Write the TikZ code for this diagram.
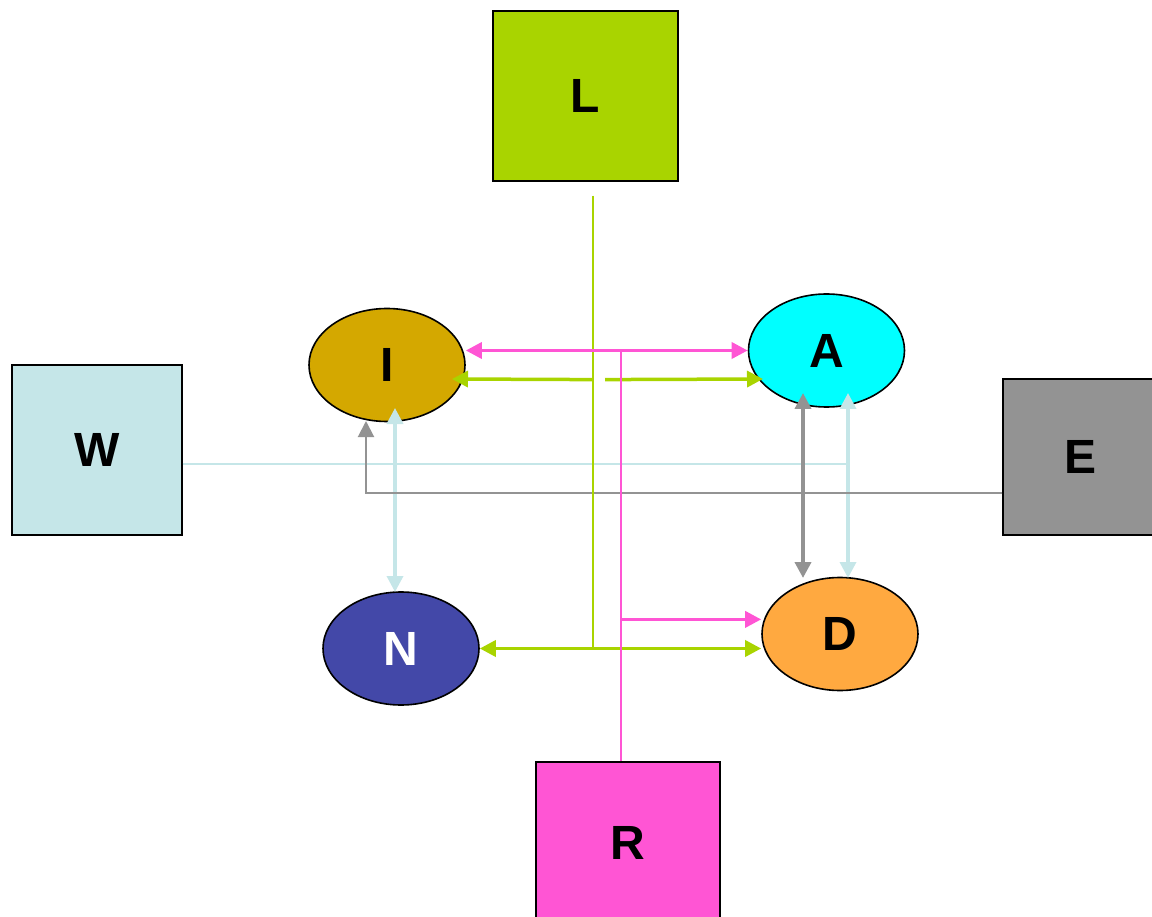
\documentclass[tikz,border=0pt]{standalone}
\usepackage{fontspec}
\setmainfont{Liberation Sans}
\usetikzlibrary{shapes.geometric,arrows.meta,calc}
\definecolor{cL}{HTML}{A9D400}
\definecolor{cW}{HTML}{C5E6E8}
\definecolor{cE}{HTML}{939393}
\definecolor{cR}{HTML}{FF55D4}
\definecolor{cI}{HTML}{D4A800}
\definecolor{cA}{HTML}{00FFFF}
\definecolor{cN}{HTML}{4348A8}
\definecolor{cD}{HTML}{FFA940}
\begin{document}
\begin{tikzpicture}[x=1pt,y=-1pt,
  lab/.style={font=\fontsize{48}{50}\selectfont\bfseries},
  box/.style={lab,draw=black,line width=1.2pt,rectangle,inner sep=0pt},
  oval/.style={lab,draw=black,line width=1.6pt,ellipse,inner sep=0pt,minimum width=156pt,minimum height=113pt},
  tipend/.style={-{Triangle[length=16pt,width=16pt]}},
  tipboth/.style={{Triangle[length=16pt,width=16pt]}-{Triangle[length=16pt,width=16pt]}},
  gthick/.style={draw=cL,line width=3.5pt},
  gthin/.style={draw=cL,line width=2pt},
  pthick/.style={draw=cR,line width=3.5pt},
  pthin/.style={draw=cR,line width=2pt},
  bthick/.style={draw=cW,line width=3.5pt},
  bthin/.style={draw=cW,line width=2pt},
  ythick/.style={draw=cE,line width=3.8pt},
  ythin/.style={draw=cE,line width=2pt}
]
\useasboundingbox (0,0) rectangle (1152,917);
% boxes
\node[box,fill=cL,minimum width=185pt,minimum height=170pt] (L) at (585.5,96) {L};
\node[box,fill=cW,minimum width=170pt,minimum height=170pt] (W) at (97,450) {W};
\node[box,fill=cE,minimum width=154pt,minimum height=156pt] (E) at (1080,457) {E};
\node[box,fill=cR,minimum width=184pt,minimum height=162pt] (R) at (628,843) {R};
% ellipses
\node[oval,fill=cI] (I) at (387,365) {I};
\node[oval,fill=cA] (A) at (826.5,350.5) {A};
\node[oval,fill=cN,text=white] (N) at (401,648.5) {N};
\node[oval,fill=cD] (D) at (840,634) {D};
% coordinates
\coordinate (g0) at ($(L.south)+(7.5,14)$);
\coordinate (g1) at ($(L.south)+(7.5,198)$);
\coordinate (g2) at ($(L.south)+(7.5,467.5)$);
\coordinate (g3) at ($(g1)+(12,0)$);
\coordinate (p0) at ($(R.north)+(-7,0)$);
\coordinate (p1) at ($(p0)+(0,-142)$);
\coordinate (wj) at (848,464);
\coordinate (ej) at (366,493);
% light blue
\draw[bthin] (W.east |- wj) -- (wj);
\draw[bthick,tipboth] ($(A.center)+(21.5,42.5)$) -- ($(D.center)+(8,-56)$);
\draw[bthick,tipboth] ($(I.center)+(8,43)$) -- ($(N.center)+(-6,-56.5)$);
% gray
\draw[ythin,tipend] (E.west |- ej) -- (ej) -- ($(I.center)+(-21,56)$);
\draw[ythick,tipboth] ($(A.center)+(-23.5,42.5)$) -- ($(D.center)+(-37,-56)$);
% green
\draw[gthin] (g0) -- (g2);
\draw[gthick,tipend] (g1) -- ($(I.center)+(65,14)$);
\draw[gthick,tipend] (g3) -- ($(A.center)+(-63.5,28.5)$);
\draw[gthick,tipboth] (N.east) -- (N.east -| D.west);
% pink
\draw[pthin] (p0) -- (p0 |- A.west);
\draw[pthick,tipboth] (I.east |- A.west) -- (A.west);
\draw[pthick,tipend] (p1) -- (p1 -| D.west);
\end{tikzpicture}
\end{document}
